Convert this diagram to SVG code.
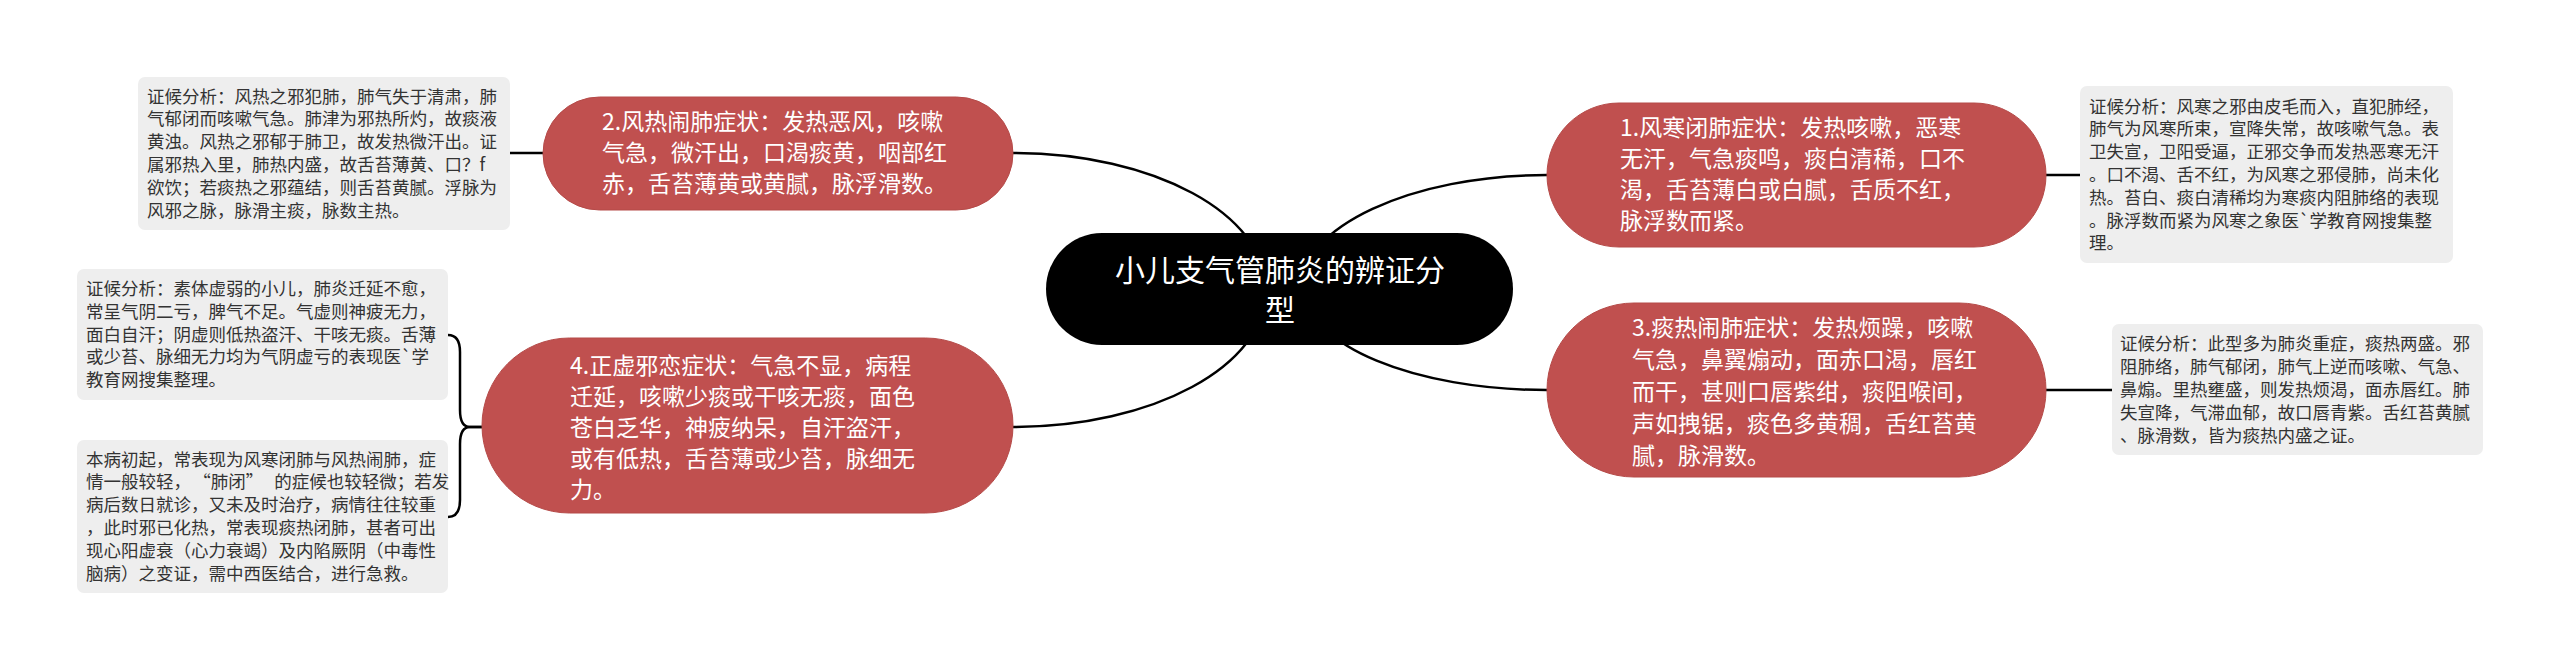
<svg xmlns="http://www.w3.org/2000/svg" width="2560" height="671" viewBox="0 0 2560 671">
<style>
.conn{fill:none;stroke:#000;stroke-width:2.5}
.red{fill:#C0504F;stroke:#B54A48;stroke-width:1}
.gray{fill:#EEEEEE}
.rt{font-family:"Noto Sans CJK SC","Noto Sans",sans-serif;font-size:23px;fill:#fff}
.gt{font-family:"Noto Sans CJK SC","Noto Sans",sans-serif;font-size:17.5px;fill:#333}
.ct{font-family:"Noto Sans CJK SC","Noto Sans",sans-serif;font-size:30px;fill:#fff;text-anchor:middle}
</style>
<rect width="2560" height="671" fill="#fff"/>
<g id="connectors">
<path class="conn" d="M1013,153 C1154,153 1266,214 1266,290"/>
<path class="conn" d="M1547,175 C1411,175 1300,227 1300,290"/>
<path class="conn" d="M1013,427 C1153,427 1266,366 1266,290"/>
<path class="conn" d="M1547,390 C1414,390 1306,345 1306,290"/>
<path class="conn" d="M543,153 H510"/>
<path class="conn" d="M2046,175 H2080"/>
<path class="conn" d="M2046,390 H2112"/>
<path class="conn" d="M482,427 H470 C462,427 460,420 460,410 V352 C460,340 456,335 448,335"/>
<path class="conn" d="M482,427 H470 C462,427 460,434 460,444 V500 C460,512 456,517 448,517"/>
</g>
<g id="root">
<rect x="1046" y="233" width="467" height="112" rx="56" fill="#000"/>
<text class="ct" x="1280" y="281">小儿支气管肺炎的辨证分</text>
<text class="ct" x="1280" y="321">型</text>
</g>
<g id="node1">
<rect class="red" x="1547" y="103" width="499" height="144" rx="72"/>
<text class="rt" x="1620" y="135.5">1.风寒闭肺症状：发热咳嗽，恶寒</text>
<text class="rt" x="1620" y="166.5">无汗，气急痰鸣，痰白清稀，口不</text>
<text class="rt" x="1620" y="197.5">渴，舌苔薄白或白腻，舌质不红，</text>
<text class="rt" x="1620" y="228.5">脉浮数而紧。</text>
</g>
<g id="note1">
<rect class="gray" x="2080" y="86" width="373" height="177" rx="7"/>
<text class="gt"><tspan x="2089" y="112.6">证候分析：风寒之邪由皮毛而入，直犯肺经，</tspan><tspan x="2089" y="135.4">肺气为风寒所束，宣降失常，故咳嗽气急。表</tspan><tspan x="2089" y="158.2">卫失宣，卫阳受逼，正邪交争而发热恶寒无汗</tspan><tspan x="2089" y="181">。口不渴、舌不红，为风寒之邪侵肺，尚未化</tspan><tspan x="2089" y="203.8">热。苔白、痰白清稀均为寒痰内阻肺络的表现</tspan><tspan x="2089" y="226.6">。脉浮数而紧为风寒之象医`学教育网搜集整</tspan><tspan x="2089" y="249.4">理。</tspan></text>
</g>
<g id="node2">
<rect class="red" x="543" y="97" width="470" height="113" rx="56.5"/>
<text class="rt" x="602" y="130">2.风热闹肺症状：发热恶风，咳嗽</text>
<text class="rt" x="602" y="161">气急，微汗出，口渴痰黄，咽部红</text>
<text class="rt" x="602" y="192">赤，舌苔薄黄或黄腻，脉浮滑数。</text>
</g>
<g id="note2">
<rect class="gray" x="138" y="77" width="372" height="153" rx="7"/>
<text class="gt"><tspan x="147" y="102.5">证候分析：风热之邪犯肺，肺气失于清肃，肺</tspan><tspan x="147" y="125.3">气郁闭而咳嗽气急。肺津为邪热所灼，故痰液</tspan><tspan x="147" y="148.1">黄浊。风热之邪郁于肺卫，故发热微汗出。证</tspan><tspan x="147" y="170.9">属邪热入里，肺热内盛，故舌苔薄黄、口？f</tspan><tspan x="147" y="193.7">欲饮；若痰热之邪蕴结，则舌苔黄腻。浮脉为</tspan><tspan x="147" y="216.5">风邪之脉，脉滑主痰，脉数主热。</tspan></text>
</g>
<g id="node3">
<rect class="red" x="1547" y="303" width="499" height="174" rx="87"/>
<text class="rt" x="1632" y="336">3.痰热闹肺症状：发热烦躁，咳嗽</text>
<text class="rt" x="1632" y="368">气急，鼻翼煽动，面赤口渴，唇红</text>
<text class="rt" x="1632" y="400">而干，甚则口唇紫绀，痰阻喉间，</text>
<text class="rt" x="1632" y="432">声如拽锯，痰色多黄稠，舌红苔黄</text>
<text class="rt" x="1632" y="464">腻，脉滑数。</text>
</g>
<g id="note3">
<rect class="gray" x="2112" y="324" width="371" height="131" rx="7"/>
<text class="gt"><tspan x="2120" y="350.4">证候分析：此型多为肺炎重症，痰热两盛。邪</tspan><tspan x="2120" y="373.2">阻肺络，肺气郁闭，肺气上逆而咳嗽、气急、</tspan><tspan x="2120" y="396">鼻煽。里热壅盛，则发热烦渴，面赤唇红。肺</tspan><tspan x="2120" y="418.8">失宣降，气滞血郁，故口唇青紫。舌红苔黄腻</tspan><tspan x="2120" y="441.6">、脉滑数，皆为痰热内盛之证。</tspan></text>
</g>
<g id="node4">
<rect class="red" x="482" y="338" width="531" height="175" rx="87.5"/>
<text class="rt" x="570" y="374">4.正虚邪恋症状：气急不显，病程</text>
<text class="rt" x="570" y="405">迁延，咳嗽少痰或干咳无痰，面色</text>
<text class="rt" x="570" y="436">苍白乏华，神疲纳呆，自汗盗汗，</text>
<text class="rt" x="570" y="467">或有低热，舌苔薄或少苔，脉细无</text>
<text class="rt" x="570" y="498">力。</text>
</g>
<g id="note4a">
<rect class="gray" x="77" y="269" width="371" height="131" rx="7"/>
<text class="gt"><tspan x="86" y="294.9">证候分析：素体虚弱的小儿，肺炎迁延不愈，</tspan><tspan x="86" y="317.7">常呈气阴二亏，脾气不足。气虚则神疲无力，</tspan><tspan x="86" y="340.5">面白自汗；阴虚则低热盗汗、干咳无痰。舌薄</tspan><tspan x="86" y="363.3">或少苔、脉细无力均为气阴虚亏的表现医`学</tspan><tspan x="86" y="386.1">教育网搜集整理。</tspan></text>
</g>
<g id="note4b">
<rect class="gray" x="77" y="440" width="371" height="153" rx="7"/>
<text class="gt"><tspan x="86" y="465.5">本病初起，常表现为风寒闭肺与风热闹肺，症</tspan><tspan x="86" y="488.3">情一般较轻，<tspan dx="11">“</tspan>肺闭”<tspan dx="11">的</tspan>症候也较轻微；若发</tspan><tspan x="86" y="511.1">病后数日就诊，又未及时治疗，病情往往较重</tspan><tspan x="86" y="533.9">，此时邪已化热，常表现痰热闭肺，甚者可出</tspan><tspan x="86" y="556.7">现心阳虚衰（心力衰竭）及内陷厥阴（中毒性</tspan><tspan x="86" y="579.5">脑病）之变证，需中西医结合，进行急救。</tspan></text>
</g>
</svg>
